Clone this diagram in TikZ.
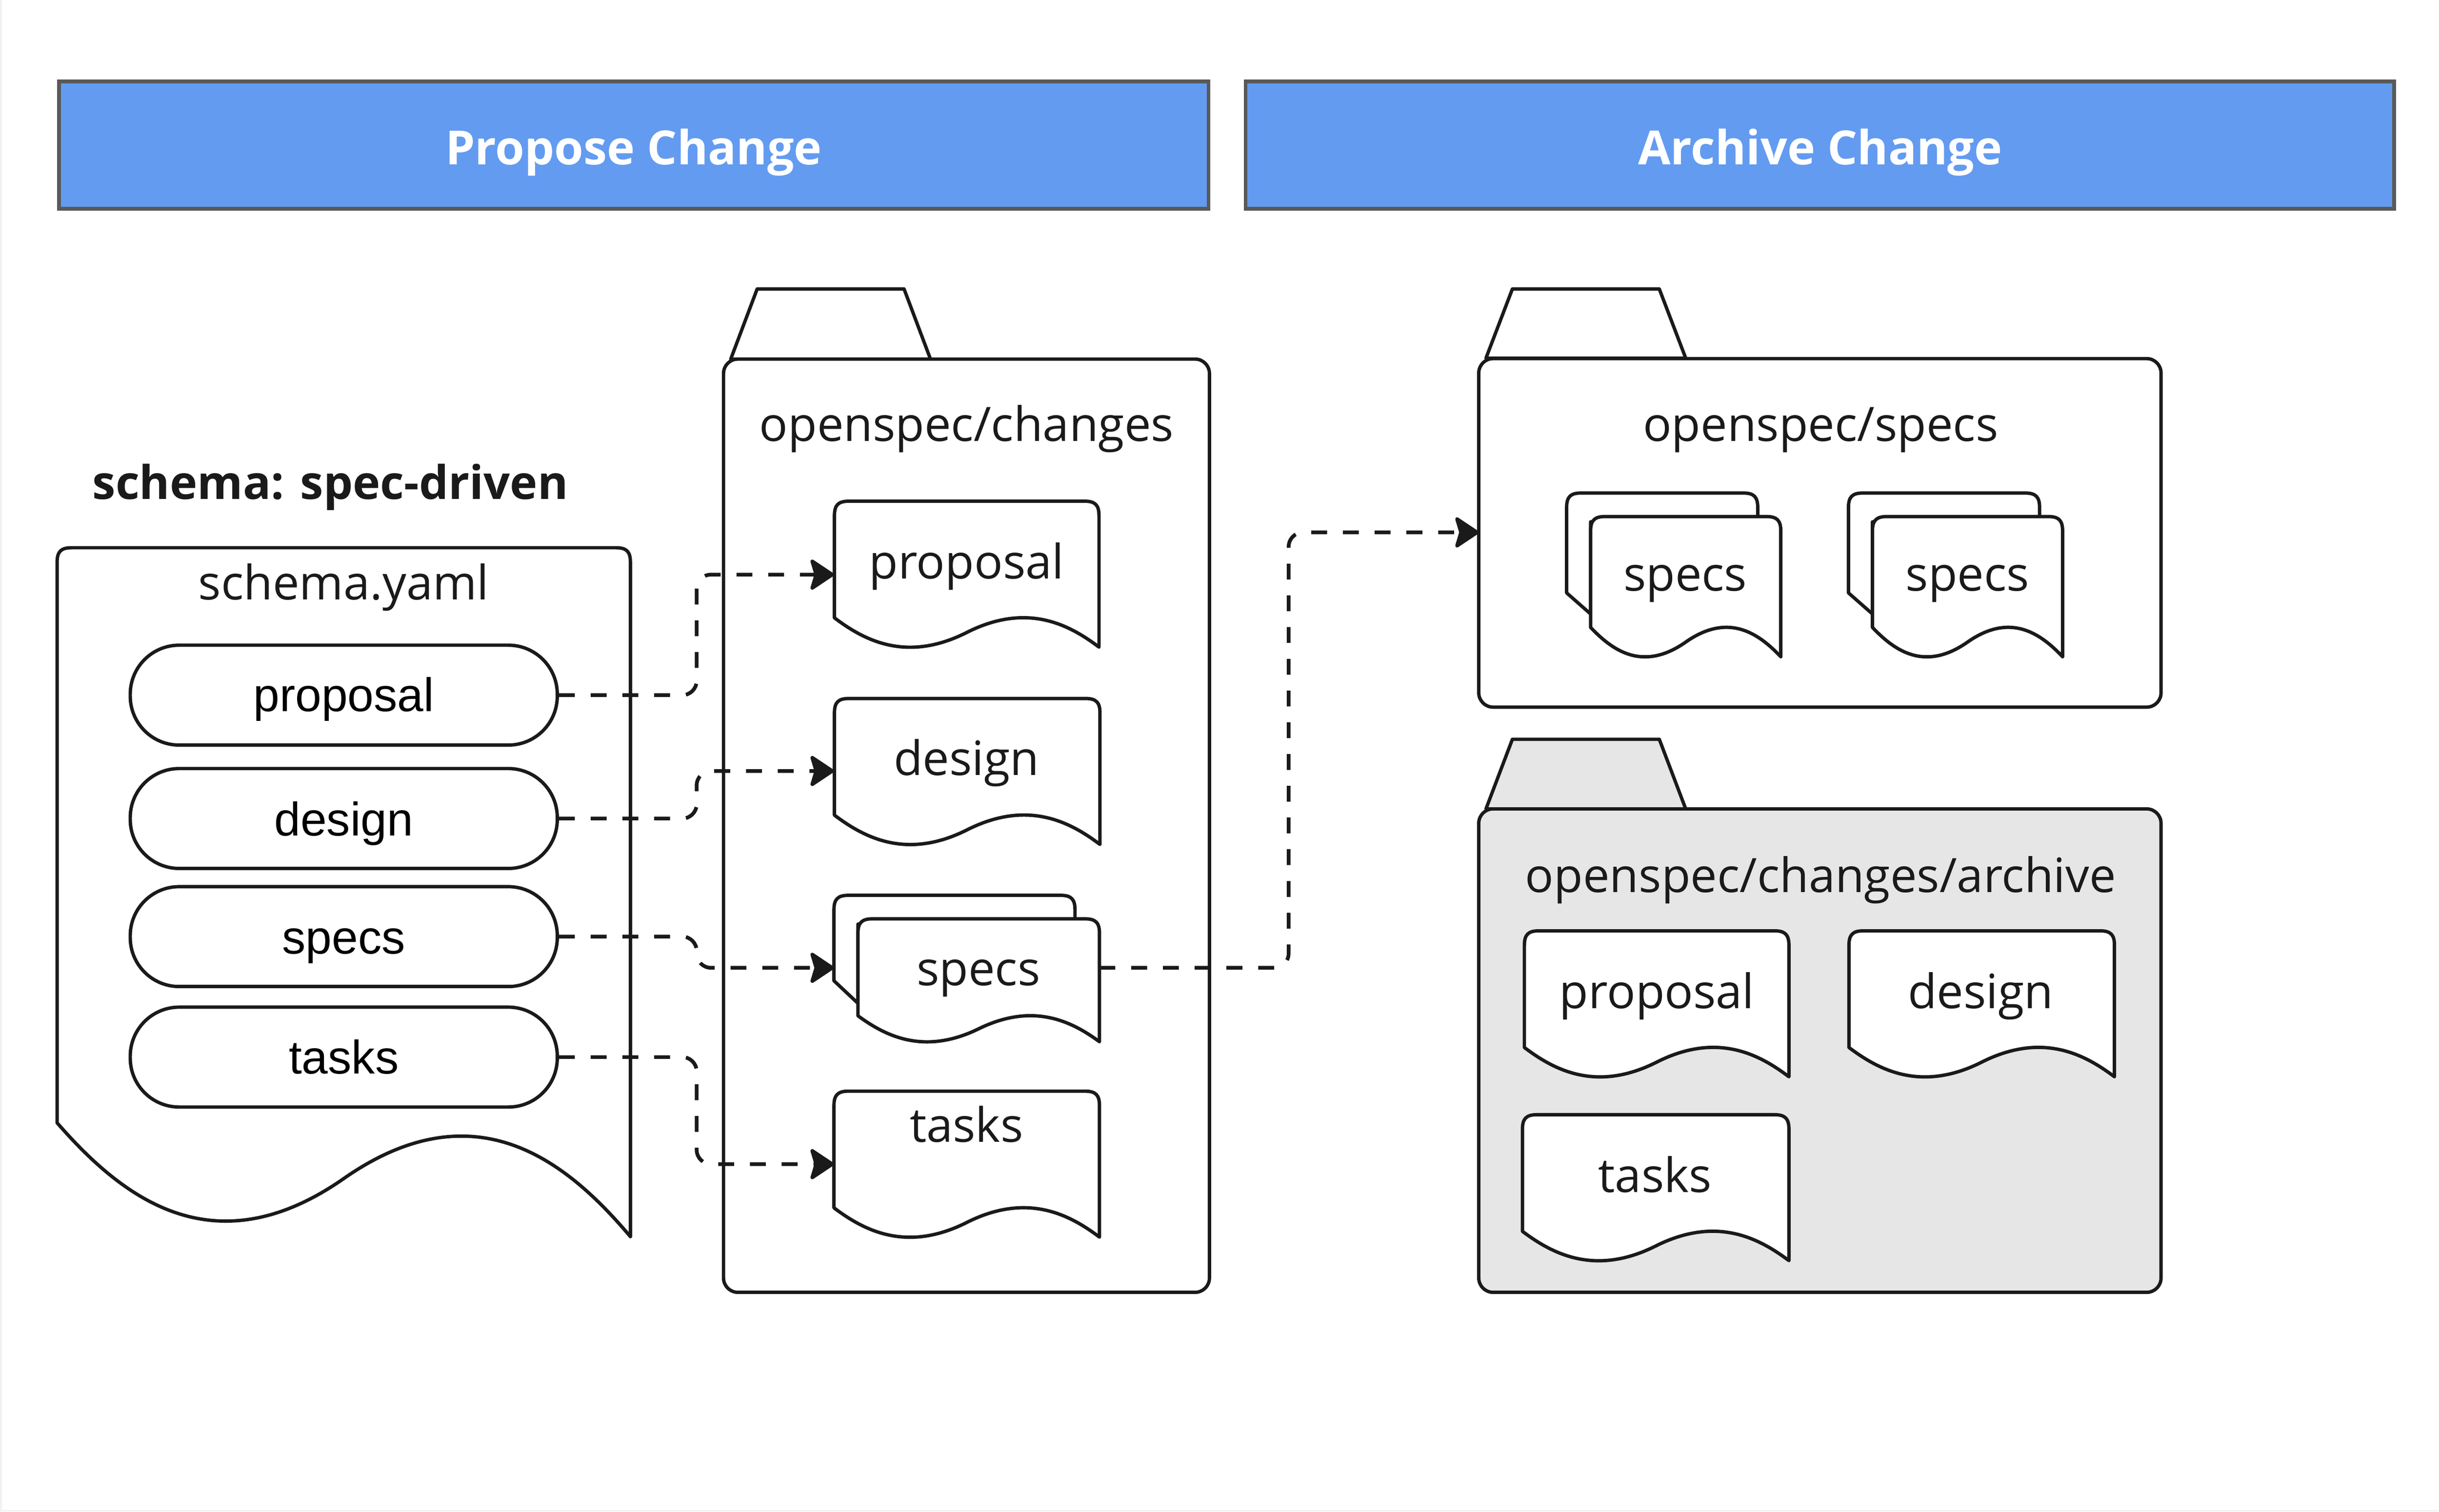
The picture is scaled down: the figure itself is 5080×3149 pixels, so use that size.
\documentclass[tikz,border=0pt]{standalone}
\usepackage{fontspec}
\setmainfont{Open Sans}
\newfontfamily\pillfont{Liberation Sans}
\usetikzlibrary{arrows.meta}
\definecolor{ink}{HTML}{1A1A1A}
\definecolor{headblue}{HTML}{639BF1}
\definecolor{headline}{HTML}{595959}
\definecolor{archivegray}{HTML}{E6E6E6}
\tikzset{
  x=0.01cm,y=-0.01cm,
  shapeline/.style={draw=ink,line width=2pt,line join=round,fill=white},
  header/.style={draw=headline,line width=2.2pt,fill=headblue,text=white,inner sep=0},
  headtext/.style={text=white,inner sep=0,anchor=base,font=\fontsize{27.9}{34}\selectfont\bfseries},
  folderbox/.style={draw=ink,line width=2pt,rounded corners=8.5pt,fill=white,inner sep=0},
  pill/.style={draw=ink,line width=2pt,fill=white,rounded corners=29pt,inner sep=0,minimum width=889*0.2845pt,minimum height=208*0.2845pt},
  label/.style={text=ink,inner sep=0,anchor=base,font=\fontsize{28.1}{34}\selectfont},
  pilltext/.style={text=black,inner sep=0,anchor=base,font=\pillfont\fontsize{27.9}{32}\selectfont},
  conn/.style={draw=ink,line width=2.2pt,dash pattern=on 9.4pt off 9.4pt,rounded corners=8.5pt,-{Stealth[length=15.5pt,width=20.5pt,inset=3pt,round]}},
}
% outline of a document: left, top, right, left bottom, wave height
\newcommand{\docoutline}[5]{%
  \path[shapeline] ({#1},{#4}) -- ({#1},{#2+30}) .. controls ({#1},{#2+8}) and ({#1+8},{#2}) .. ({#1+30},{#2})
    -- ({#3-30},{#2}) .. controls ({#3-8},{#2}) and ({#3},{#2+8}) .. ({#3},{#2+30})
    -- ({#3},{#4+#5})
    .. controls ({#1+0.89*(#3-#1)},{#4+0.25*#5}) and ({#1+0.73*(#3-#1)},{#4-0.55*#5}) .. ({#1+0.5*(#3-#1)},{#4+0.5*#5})
    .. controls ({#1+0.27*(#3-#1)},{#4+1.55*#5}) and ({#1+0.11*(#3-#1)},{#4+0.75*#5}) .. ({#1},{#4}) -- cycle;
}
% back sheet of a stack: left, top, right, left bottom, front left, meeting y
\newcommand{\backsheet}[6]{%
  \path[shapeline] ({#1},{#4}) -- ({#1},{#2+30}) .. controls ({#1},{#2+8}) and ({#1+8},{#2}) .. ({#1+30},{#2})
    -- ({#3-30},{#2}) .. controls ({#3-8},{#2}) and ({#3},{#2+8}) .. ({#3},{#2+30})
    -- ({#3},{#2+60}) -- ({#5},{#2+60}) -- ({#5},{#6}) -- cycle;
}
% folder tab: left of folder, tab top, folder top, fill
\newcommand{\foldertab}[4]{%
  \path[shapeline,fill=#4] ({#1+15},{#3}) -- ({#1+70},{#2}) -- ({#1+376},{#2}) -- ({#1+431},{#3}) -- cycle;
}
\begin{document}
\begin{tikzpicture}
\useasboundingbox (0,0) rectangle (5080,3149);
\fill[white!95!black] (0,0) rectangle (5080,3149);
\fill[white] (4,0) rectangle (5080,3146);

% headers
\node[header,minimum width=2393*0.2845pt,minimum height=265*0.2845pt] (hprop) at (1320,302.5) {};
\node[headtext] (hproptext) at (1320,343) {Propose Change};
\node[header,minimum width=2391*0.2845pt,minimum height=265*0.2845pt] (harch) at (3790.5,302.5) {};
\node[headtext] (harchtext) at (3791,343) {Archive Change};

% schema
\node[text=ink,inner sep=0,anchor=base,font=\fontsize{27.5}{34}\selectfont\bfseries] (schematitle) at (688,1040) {schema: spec-driven};
\path[shapeline] (119,2339) -- (119,1171) .. controls (119,1149) and (127,1141) .. (149,1141)
  -- (1283,1141) .. controls (1305,1141) and (1313,1149) .. (1313,1171)
  -- (1313,2576) .. controls (1182,2421) and (991,2263) .. (716,2455)
  .. controls (441,2647) and (250,2489) .. (119,2339) -- cycle;
\node[label] (schemayaml) at (716,1249) {schema.yaml};
\node[pill] (pprop) at (716,1448) {};
\node[pill] (pdes)  at (716,1705) {};
\node[pill] (pspec) at (716,1951) {};
\node[pill] (ptask) at (716,2202) {};
\node[pilltext] (tprop) at (716,1482) {proposal};
\node[pilltext] (tdes)  at (716,1741) {design};
\node[pilltext] (tspec) at (716,1987) {specs};
\node[pilltext] (ttask) at (716,2237) {tasks};

% openspec/changes
\foldertab{1507}{602}{748}{white}
\draw[folderbox] (1507,748) rectangle (2519,2692);
\node[label] (lchanges) at (2013,919) {openspec/changes};
\docoutline{1738}{1044}{2289}{1287}{61}
\node[label] (lprop) at (2013,1205) {proposal};
\docoutline{1738}{1455}{2291}{1698}{61}
\node[label] (ldes) at (2013,1615) {design};
\backsheet{1737}{1865}{2239}{2043}{1787}{2090}
\docoutline{1787}{1914}{2290}{2116}{54}
\node[label] (lspec) at (2038,2053) {specs};
\docoutline{1737}{2273}{2290}{2516}{61}
\node[label] (ltask) at (2013,2379) {tasks};

% openspec/specs
\foldertab{3080}{602}{746}{white}
\draw[folderbox] (3080,747) rectangle (4501,1473);
\node[label] (lspecs) at (3792,919) {openspec/specs};
\backsheet{3263}{1027}{3661}{1235}{3313}{1279}
\docoutline{3313}{1076}{3709}{1307}{61}
\node[label] (ls1) at (3510,1231) {specs};
\backsheet{3850}{1027}{4248}{1235}{3900}{1279}
\docoutline{3900}{1076}{4296}{1307}{61}
\node[label] (ls2) at (4098,1231) {specs};

% archive
\foldertab{3080}{1540}{1685}{archivegray}
\draw[folderbox,fill=archivegray] (3080,1685) rectangle (4501,2692);
\node[label] (larch) at (3792,1859) {openspec/changes/archive};
\docoutline{3175}{1939}{3726}{2182}{61}
\node[label] (aprop) at (3451,2101) {proposal};
\docoutline{3851}{1939}{4404}{2182}{61}
\node[label] (ades) at (4125,2101) {design};
\docoutline{3171}{2322}{3726}{2565}{61}
\node[label] (atask) at (3447,2484) {tasks};

% connector ends
\coordinate (bend) at (1451,0);
\coordinate (bendb) at (2684,0);
\coordinate (dprop) at (1737,1197);
\coordinate (ddes) at (1737,1606);
\coordinate (dspec) at (1737,2016);
\coordinate (dtask) at (1737,2425);
\coordinate (sout) at (2290,2016);
\coordinate (fspec) at (3080,1109);
\draw[conn] (pprop.east) -- (bend |- pprop.east) -- (bend |- dprop) -- (dprop);
\draw[conn] (pdes.east) -- (bend |- pdes.east) -- (bend |- ddes) -- (ddes);
\draw[conn] (pspec.east) -- (bend |- pspec.east) -- (bend |- dspec) -- (dspec);
\draw[conn] (ptask.east) -- (bend |- ptask.east) -- (bend |- dtask) -- (dtask);
\draw[conn] (sout) -- (bendb |- sout) -- (bendb |- fspec) -- (fspec);
\end{tikzpicture}
\end{document}
